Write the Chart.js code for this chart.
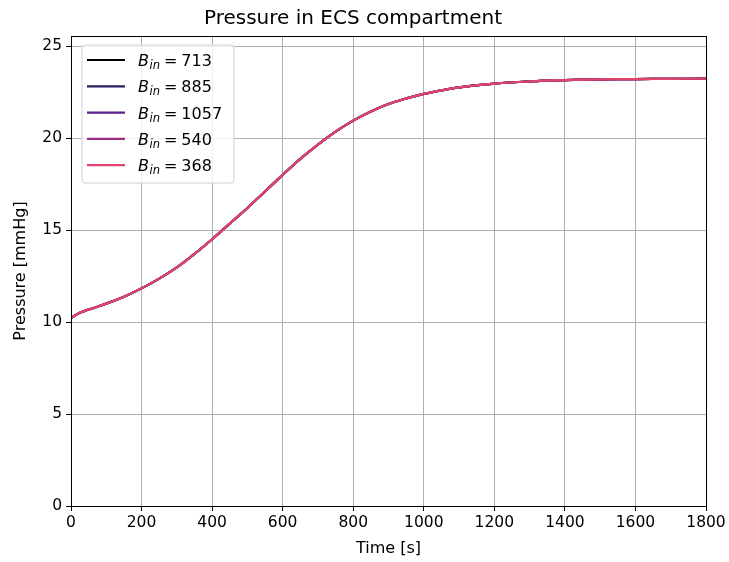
<!DOCTYPE html>
<html>
<head>
<meta charset="utf-8">
<script src="https://cdn.jsdelivr.net/npm/chart.js@4.4.1/dist/chart.umd.min.js"></script>
<style>
    html, body { margin: 0; padding: 0; background: #fff; }
    #wrap { width: 729px; height: 562px; }
</style>
</head>
<body>
<div id="wrap"><canvas id="ecsChart"></canvas></div>
<script>
// time axis (s) and pressure (mmHg)
const timeS = [0, 25, 50, 100, 150, 200, 250, 300, 350, 400, 450, 500, 550, 600, 650, 700, 750, 800,
    850, 900, 950, 1000, 1100, 1200, 1300, 1400, 1500, 1600, 1700, 1800];
// all five runs sit on top of each other in the picture
const pressure = [10.22, 10.5, 10.68, 11.0, 11.38, 11.83, 12.36, 12.97, 13.7, 14.5, 15.35, 16.2, 17.1, 18.0,
    18.87, 19.65, 20.35, 20.95, 21.45, 21.85, 22.15, 22.4, 22.76, 22.96, 23.08, 23.15, 23.19, 23.21, 23.22, 23.23];
const bInValues = [713, 885, 1057, 540, 368];
const lineColors = ['#000000', '#2c1c5e', '#5d1f8b', '#9b2d80', '#e0466c'];
const xTicks = [0, 200, 400, 600, 800, 1000, 1200, 1400, 1600, 1800];
const yTicks = [0, 5, 10, 15, 20, 25];

const FONT = "'DejaVu Sans', sans-serif";

// matplotlib-like legend inside the axes, with B_in subscript
const insideLegend = {
    id: 'insideLegend',
    afterDatasetsDraw(chart) {
        const ctx = chart.ctx;
        const area = chart.chartArea;
        const bx = area.left + 11, by = area.top + 9, bw = 152, bh = 138;
        ctx.save();
        ctx.beginPath();
        ctx.roundRect(bx, by, bw, bh, 3);
        ctx.fillStyle = 'rgba(255,255,255,0.8)';
        ctx.fill();
        ctx.strokeStyle = '#d0d0d0';
        ctx.lineWidth = 1;
        ctx.stroke();
        bInValues.forEach((b, i) => {
            const y = by + 15 + i * 26.3;
            ctx.strokeStyle = lineColors[i];
            ctx.lineWidth = 2.2;
            ctx.beginPath();
            ctx.moveTo(bx + 5, y);
            ctx.lineTo(bx + 43, y);
            ctx.stroke();
            let x = bx + 56;
            ctx.fillStyle = '#000';
            ctx.textBaseline = 'alphabetic';
            ctx.textAlign = 'left';
            ctx.font = 'italic 16px ' + FONT;
            ctx.fillText('B', x, y + 6);
            x += ctx.measureText('B').width + 0.5;
            ctx.font = 'italic 11.5px ' + FONT;
            ctx.fillText('in', x, y + 9);
            x += ctx.measureText('in').width + 4;
            ctx.font = '16px ' + FONT;
            ctx.fillText('=', x, y + 6);
            x += ctx.measureText('=').width + 4;
            ctx.fillText(String(b), x, y + 6);
        });
        ctx.restore();
    }
};

// top and right spines
const frame = {
    id: 'frame',
    afterDraw(chart) {
        const a = chart.chartArea;
        const ctx = chart.ctx;
        ctx.save();
        ctx.strokeStyle = '#000';
        ctx.lineWidth = 1;
        ctx.strokeRect(Math.round(a.left) + 0.5, Math.round(a.top) + 0.5,
            Math.round(a.right - a.left), Math.round(a.bottom - a.top));
        ctx.restore();
    }
};

// dataset 0 is drawn on top in Chart.js, so feed them reversed
const datasets = bInValues.map((b, i) => ({
    label: 'B_in = ' + b,
    data: timeS.map((t, k) => ({ x: t, y: pressure[k] })),
    borderColor: lineColors[i],
    borderWidth: 2.2,
    pointRadius: 0,
    fill: false,
    tension: 0.4
})).reverse();

const ctx = document.getElementById('ecsChart').getContext('2d');
new Chart(ctx, {
    type: 'line',
    data: { datasets },
    options: {
        responsive: true,
        maintainAspectRatio: false,
        animation: false,
        layout: { padding: { left: 0, right: 23, top: 0, bottom: 0 } },
        plugins: {
            legend: { display: false },
            tooltip: { enabled: false },
            title: {
                display: true,
                text: 'Pressure in ECS compartment',
                color: '#000',
                font: { family: FONT, size: 20, weight: 'normal' },
                padding: { top: 7, bottom: 5 }
            }
        },
        scales: {
            x: {
                type: 'linear',
                min: 0,
                max: 1800,
                afterBuildTicks: s => { s.ticks = xTicks.map(v => ({ value: v })); },
                afterFit: s => { s.height = 56; },
                ticks: {
                    color: '#000', font: { family: FONT, size: 15.5 }, padding: 3, maxRotation: 0,
                    callback: v => String(v)
                },
                grid: { color: '#b0b0b0', lineWidth: 1, tickColor: '#000', tickLength: 5 },
                border: { color: '#000', width: 1 },
                title: {
                    display: true,
                    text: 'Time [s]',
                    color: '#000',
                    font: { family: FONT, size: 16 },
                    padding: { top: 0, bottom: 4 }
                }
            },
            y: {
                min: 0,
                max: 25.55,
                afterBuildTicks: s => { s.ticks = yTicks.map(v => ({ value: v })); },
                afterFit: s => { s.width = 71; },
                ticks: { color: '#000', font: { family: FONT, size: 15.5 }, padding: 4, callback: v => String(v) },
                grid: { color: '#b0b0b0', lineWidth: 1, tickColor: '#000', tickLength: 5 },
                border: { color: '#000', width: 1 },
                title: {
                    display: true,
                    text: 'Pressure [mmHg]',
                    color: '#000',
                    font: { family: FONT, size: 16 },
                    padding: { top: 11, bottom: 0 }
                }
            }
        }
    },
    plugins: [insideLegend, frame]
});
</script>
</body>
</html>
